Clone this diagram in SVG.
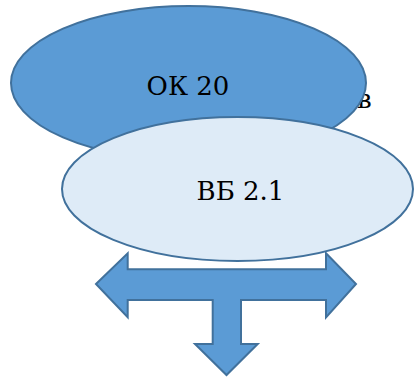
<svg xmlns="http://www.w3.org/2000/svg" width="415" height="378" viewBox="0 0 415 378">
<style>
.t{font-family:'DejaVu Serif','Liberation Serif',serif;font-size:26px;fill:#000}
.dark{fill:#5B9BD5;stroke:#41719C;stroke-width:2}
.light{fill:#DEEBF7;stroke:#41719C;stroke-width:2}
</style>
<rect width="415" height="378" fill="#fff"/>
<text class="t" x="357" y="108">в</text>
<g id="ok20">
<ellipse class="dark" cx="188.5" cy="83" rx="177.5" ry="77"/>
<text class="t" x="188" y="95" text-anchor="middle">ОК 20</text>
</g>
<g id="connectors">
<path class="dark" d="M96,284 L127.7,253.3 L127.7,269.3 L326,269.3 L326,253.3 L356,284 L326,317.3 L326,300 L241,300 L241,344 L257.7,344 L226.5,375 L195,344 L212.7,344 L212.7,300 L127.7,300 L127.7,317.3 Z"/>
</g>
<g id="vb21">
<ellipse class="light" cx="237.5" cy="189" rx="175.5" ry="72"/>
<text class="t" x="240.5" y="200" text-anchor="middle">ВБ 2.1</text>
</g>
</svg>
